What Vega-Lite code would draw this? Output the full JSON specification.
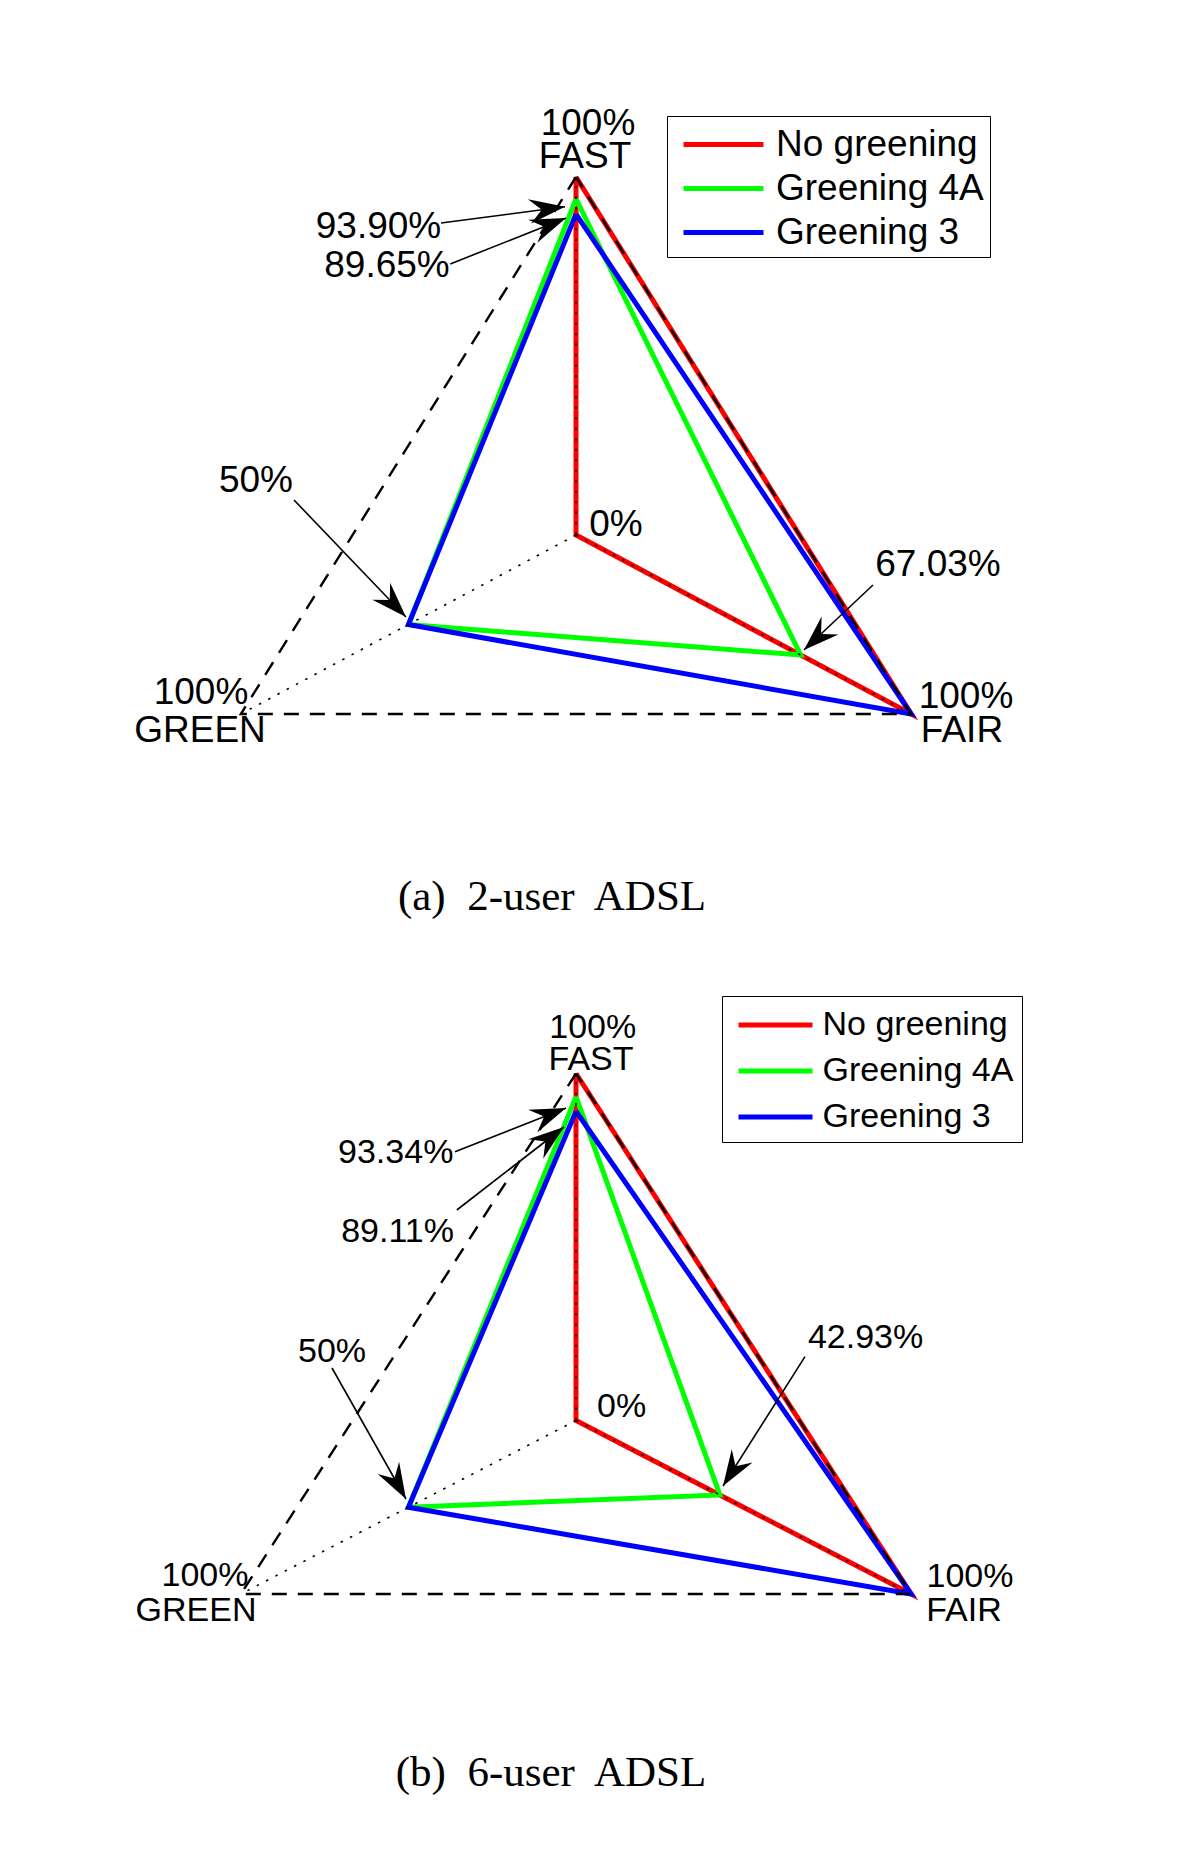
{
  "$schema": "https://vega.github.io/schema/vega-lite/v6.json",
  "padding": 0,
  "spacing": 0,
  "background": "white",
  "config": {"view": {"stroke": null}, "concat": {"spacing": 0}},
  "datasets": {
    "radar": [
      {"panel": "a", "series": "No greening", "axis": "FAST", "value": 1, "ord": 1},
      {"panel": "a", "series": "No greening", "axis": "FAIR", "value": 1, "ord": 2},
      {"panel": "a", "series": "No greening", "axis": "GREEN", "value": 0, "ord": 3},
      {"panel": "a", "series": "No greening", "axis": "FAST", "value": 1, "ord": 4},
      {"panel": "a", "series": "Greening 4A", "axis": "FAST", "value": 0.939, "ord": 1},
      {"panel": "a", "series": "Greening 4A", "axis": "FAIR", "value": 0.6703, "ord": 2},
      {"panel": "a", "series": "Greening 4A", "axis": "GREEN", "value": 0.5, "ord": 3},
      {"panel": "a", "series": "Greening 4A", "axis": "FAST", "value": 0.939, "ord": 4},
      {"panel": "a", "series": "Greening 3", "axis": "FAST", "value": 0.8965, "ord": 1},
      {"panel": "a", "series": "Greening 3", "axis": "FAIR", "value": 1, "ord": 2},
      {"panel": "a", "series": "Greening 3", "axis": "GREEN", "value": 0.5, "ord": 3},
      {"panel": "a", "series": "Greening 3", "axis": "FAST", "value": 0.8965, "ord": 4},
      {"panel": "b", "series": "No greening", "axis": "FAST", "value": 1, "ord": 1},
      {"panel": "b", "series": "No greening", "axis": "FAIR", "value": 1, "ord": 2},
      {"panel": "b", "series": "No greening", "axis": "GREEN", "value": 0, "ord": 3},
      {"panel": "b", "series": "No greening", "axis": "FAST", "value": 1, "ord": 4},
      {"panel": "b", "series": "Greening 4A", "axis": "FAST", "value": 0.9334, "ord": 1},
      {"panel": "b", "series": "Greening 4A", "axis": "FAIR", "value": 0.4293, "ord": 2},
      {"panel": "b", "series": "Greening 4A", "axis": "GREEN", "value": 0.5, "ord": 3},
      {"panel": "b", "series": "Greening 4A", "axis": "FAST", "value": 0.9334, "ord": 4},
      {"panel": "b", "series": "Greening 3", "axis": "FAST", "value": 0.8911, "ord": 1},
      {"panel": "b", "series": "Greening 3", "axis": "FAIR", "value": 1, "ord": 2},
      {"panel": "b", "series": "Greening 3", "axis": "GREEN", "value": 0.5, "ord": 3},
      {"panel": "b", "series": "Greening 3", "axis": "FAST", "value": 0.8911, "ord": 4}
    ],
    "grid": [
      {"kind": "frame", "axis": "FAST", "value": 1, "ord": 1},
      {"kind": "frame", "axis": "GREEN", "value": 1, "ord": 2},
      {"kind": "frame", "axis": "FAIR", "value": 1, "ord": 3},
      {"kind": "frame", "axis": "FAST", "value": 1, "ord": 4},
      {"kind": "spoke", "axis": "FAST", "value": 0, "ord": 1},
      {"kind": "spoke", "axis": "FAST", "value": 1, "ord": 2},
      {"kind": "spoke", "axis": "GREEN", "value": 0, "ord": 1},
      {"kind": "spoke", "axis": "GREEN", "value": 1, "ord": 2},
      {"kind": "spoke", "axis": "FAIR", "value": 0, "ord": 1},
      {"kind": "spoke", "axis": "FAIR", "value": 1, "ord": 2}
    ],
    "labels": [
      {"panel": "a", "label": "100%", "x": 0.031, "y": 1.148},
      {"panel": "a", "label": "FAST", "x": 0.0233, "y": 1.0567},
      {"panel": "a", "label": "0%", "x": 0.1034, "y": 0.0293},
      {"panel": "a", "label": "100%", "x": -0.969, "y": -0.441},
      {"panel": "a", "label": "GREEN", "x": -0.9716, "y": -0.5467},
      {"panel": "a", "label": "100%", "x": 1.0078, "y": -0.452},
      {"panel": "a", "label": "FAIR", "x": 0.9974, "y": -0.5467},
      {"panel": "a", "label": "93.90%", "x": -0.5103, "y": 0.8603},
      {"panel": "a", "label": "89.65%", "x": -0.4884, "y": 0.7514},
      {"panel": "a", "label": "50%", "x": -0.8269, "y": 0.1508},
      {"panel": "a", "label": "67.03%", "x": 0.9354, "y": -0.0838},
      {"panel": "b", "label": "100%", "x": 0.0432, "y": 1.1322},
      {"panel": "b", "label": "FAST", "x": 0.0388, "y": 1.0398},
      {"panel": "b", "label": "0%", "x": 0.1178, "y": 0.0389},
      {"panel": "b", "label": "100%", "x": -0.9587, "y": -0.448},
      {"panel": "b", "label": "GREEN", "x": -0.9819, "y": -0.5481},
      {"panel": "b", "label": "100%", "x": 1.0181, "y": -0.451},
      {"panel": "b", "label": "FAIR", "x": 1.0026, "y": -0.5481},
      {"panel": "b", "label": "93.34%", "x": -0.4659, "y": 0.7723},
      {"panel": "b", "label": "89.11%", "x": -0.461, "y": 0.5441},
      {"panel": "b", "label": "50%", "x": -0.6305, "y": 0.1974},
      {"panel": "b", "label": "42.93%", "x": 0.7483, "y": 0.2378}
    ],
    "arrows": [
      {"panel": "a", "x": -0.3488, "y": 0.8715, "x2": -0.0284, "y2": 0.917},
      {"panel": "a", "x": -0.325, "y": 0.757, "x2": -0.0258, "y2": 0.8855},
      {"panel": "a", "x": -0.7287, "y": 0.0978, "x2": -0.4393, "y2": -0.229},
      {"panel": "a", "x": 0.7674, "y": -0.1397, "x2": 0.5891, "y2": -0.3212},
      {"panel": "b", "x": -0.3127, "y": 0.7746, "x2": -0.0258, "y2": 0.9006},
      {"panel": "b", "x": -0.308, "y": 0.6066, "x2": -0.031, "y2": 0.8458},
      {"panel": "b", "x": -0.6305, "y": 0.1513, "x2": -0.4393, "y2": -0.2262},
      {"panel": "b", "x": 0.5917, "y": 0.1839, "x2": 0.3798, "y2": -0.1888}
    ],
    "captions": [
      {"panel": "a", "label": "(a)\u00a0 2-user\u00a0 ADSL", "x": -0.062, "y": -1.0112},
      {"panel": "b", "label": "(b)\u00a0 6-user\u00a0 ADSL", "x": -0.0646, "y": -1.0159}
    ]
  },
  "resolve": {"scale": {"x": "independent", "y": "independent", "color": "independent"}, "legend": {"color": "independent"}},
  "vconcat": [
    {
      "width": 1200,
      "height": 934,
      "layer": [
        {
          "data": {"name": "radar"},
          "transform": [
            {"filter": "datum.panel === 'a'"},
            {"calculate": "datum.axis === 'FAST' ? 90 : (datum.axis === 'FAIR' ? -30 : 210)", "as": "deg"},
            {"calculate": "datum.value * cos(datum.deg * PI / 180)", "as": "x"},
            {"calculate": "datum.value * sin(datum.deg * PI / 180)", "as": "y"}
          ],
          "mark": {"type": "line", "strokeWidth": 5, "strokeJoin": "miter"},
          "encoding": {
            "x": {"field": "x", "type": "quantitative", "scale": {"domain": [-1.4884, 1.6124], "nice": false, "zero": false}, "axis": null},
            "y": {"field": "y", "type": "quantitative", "scale": {"domain": [-1.1145, 1.4944], "nice": false, "zero": false}, "axis": null},
            "order": {"field": "ord", "type": "quantitative"},
            "color": {
              "field": "series", "type": "nominal",
              "scale": {"domain": ["No greening", "Greening 4A", "Greening 3"], "range": ["#ff0000", "#00ff00", "#0000ff"]},
              "legend": {
                "title": null, "orient": "none", "legendX": 667, "legendY": 116, "direction": "vertical",
                "symbolType": "M-2,0L2,0", "symbolSize": 1600, "symbolStrokeWidth": 5, "symbolOffset": 28,
                "labelOffset": 30, "labelFontSize": 37, "labelFont": "Liberation Sans", "labelColor": "black",
                "labelLimit": 400, "padding": 6, "rowPadding": 3, "strokeColor": "black", "fillColor": "white"
              }
            }
          }
        },
        {
          "data": {"name": "grid"},
          "transform": [
            {"filter": "datum.kind === 'frame'"},
            {"calculate": "datum.axis === 'FAST' ? 90 : (datum.axis === 'FAIR' ? -30 : 210)", "as": "deg"},
            {"calculate": "datum.value * cos(datum.deg * PI / 180)", "as": "x"},
            {"calculate": "datum.value * sin(datum.deg * PI / 180)", "as": "y"}
          ],
          "mark": {"type": "line", "color": "black", "strokeWidth": 2.4, "strokeDash": [15, 11]},
          "encoding": {
            "x": {"field": "x", "type": "quantitative", "scale": {"domain": [-1.4884, 1.6124], "nice": false, "zero": false}, "axis": null},
            "y": {"field": "y", "type": "quantitative", "scale": {"domain": [-1.1145, 1.4944], "nice": false, "zero": false}, "axis": null},
            "order": {"field": "ord", "type": "quantitative"}
          }
        },
        {
          "data": {"name": "grid"},
          "transform": [
            {"filter": "datum.kind === 'spoke'"},
            {"calculate": "datum.axis === 'FAST' ? 90 : (datum.axis === 'FAIR' ? -30 : 210)", "as": "deg"},
            {"calculate": "datum.value * cos(datum.deg * PI / 180)", "as": "x"},
            {"calculate": "datum.value * sin(datum.deg * PI / 180)", "as": "y"}
          ],
          "mark": {"type": "line", "color": "black", "strokeWidth": 1.6, "strokeDash": [2.5, 8]},
          "encoding": {
            "x": {"field": "x", "type": "quantitative", "scale": {"domain": [-1.4884, 1.6124], "nice": false, "zero": false}, "axis": null},
            "y": {"field": "y", "type": "quantitative", "scale": {"domain": [-1.1145, 1.4944], "nice": false, "zero": false}, "axis": null},
            "detail": {"field": "axis", "type": "nominal"},
            "order": {"field": "ord", "type": "quantitative"}
          }
        },
        {
          "data": {"name": "arrows"},
          "transform": [{"filter": "datum.panel === 'a'"}],
          "mark": {"type": "rule", "color": "black", "strokeWidth": 1.6},
          "encoding": {
            "x": {"field": "x", "type": "quantitative", "scale": {"domain": [-1.4884, 1.6124], "nice": false, "zero": false}, "axis": null},
            "y": {"field": "y", "type": "quantitative", "scale": {"domain": [-1.1145, 1.4944], "nice": false, "zero": false}, "axis": null},
            "x2": {"field": "x2"},
            "y2": {"field": "y2"}
          }
        },
        {
          "data": {"name": "arrows"},
          "transform": [
            {"filter": "datum.panel === 'a'"},
            {"calculate": "atan2((datum.x2 - datum.x) * 387, (datum.y2 - datum.y) * 358) * 180 / PI", "as": "ang"}
          ],
          "mark": {"type": "point", "shape": "M0,0L0.55,1.6L0,1.05L-0.55,1.6Z", "filled": true, "size": 2000, "color": "black", "opacity": 1, "strokeWidth": 0},
          "encoding": {
            "x": {"field": "x2", "type": "quantitative", "scale": {"domain": [-1.4884, 1.6124], "nice": false, "zero": false}, "axis": null},
            "y": {"field": "y2", "type": "quantitative", "scale": {"domain": [-1.1145, 1.4944], "nice": false, "zero": false}, "axis": null},
            "angle": {"field": "ang", "type": "quantitative", "scale": null}
          }
        },
        {
          "data": {"name": "labels"},
          "transform": [{"filter": "datum.panel === 'a'"}],
          "mark": {"type": "text", "font": "Liberation Sans", "fontSize": 37, "color": "black", "align": "center", "baseline": "middle"},
          "encoding": {
            "x": {"field": "x", "type": "quantitative", "scale": {"domain": [-1.4884, 1.6124], "nice": false, "zero": false}, "axis": null},
            "y": {"field": "y", "type": "quantitative", "scale": {"domain": [-1.1145, 1.4944], "nice": false, "zero": false}, "axis": null},
            "text": {"field": "label", "type": "nominal"}
          }
        },
        {
          "data": {"name": "captions"},
          "transform": [{"filter": "datum.panel === 'a'"}],
          "mark": {"type": "text", "font": "Liberation Serif", "fontSize": 43, "color": "black", "align": "center", "baseline": "middle"},
          "encoding": {
            "x": {"field": "x", "type": "quantitative", "scale": {"domain": [-1.4884, 1.6124], "nice": false, "zero": false}, "axis": null},
            "y": {"field": "y", "type": "quantitative", "scale": {"domain": [-1.1145, 1.4944], "nice": false, "zero": false}, "axis": null},
            "text": {"field": "label", "type": "nominal"}
          }
        }
      ]
    },
    {
      "width": 1200,
      "height": 935,
      "layer": [
        {
          "data": {"name": "radar"},
          "transform": [
            {"filter": "datum.panel === 'b'"},
            {"calculate": "datum.axis === 'FAST' ? 90 : (datum.axis === 'FAIR' ? -30 : 210)", "as": "deg"},
            {"calculate": "datum.value * cos(datum.deg * PI / 180)", "as": "x"},
            {"calculate": "datum.value * sin(datum.deg * PI / 180)", "as": "y"}
          ],
          "mark": {"type": "line", "strokeWidth": 5, "strokeJoin": "miter"},
          "encoding": {
            "x": {"field": "x", "type": "quantitative", "scale": {"domain": [-1.4884, 1.6124], "nice": false, "zero": false}, "axis": null},
            "y": {"field": "y", "type": "quantitative", "scale": {"domain": [-1.2925, 1.402], "nice": false, "zero": false}, "axis": null},
            "order": {"field": "ord", "type": "quantitative"},
            "color": {
              "field": "series", "type": "nominal",
              "scale": {"domain": ["No greening", "Greening 4A", "Greening 3"], "range": ["#ff0000", "#00ff00", "#0000ff"]},
              "legend": {
                "title": null, "orient": "none", "legendX": 722, "legendY": 62, "direction": "vertical",
                "symbolType": "M-2,0L2,0", "symbolSize": 1369, "symbolStrokeWidth": 5, "symbolOffset": 24.5,
                "labelOffset": 26, "labelFontSize": 34, "labelFont": "Liberation Sans", "labelColor": "black",
                "labelLimit": 400, "padding": 8, "rowPadding": 8, "strokeColor": "black", "fillColor": "white"
              }
            }
          }
        },
        {
          "data": {"name": "grid"},
          "transform": [
            {"filter": "datum.kind === 'frame'"},
            {"calculate": "datum.axis === 'FAST' ? 90 : (datum.axis === 'FAIR' ? -30 : 210)", "as": "deg"},
            {"calculate": "datum.value * cos(datum.deg * PI / 180)", "as": "x"},
            {"calculate": "datum.value * sin(datum.deg * PI / 180)", "as": "y"}
          ],
          "mark": {"type": "line", "color": "black", "strokeWidth": 2.4, "strokeDash": [15, 11]},
          "encoding": {
            "x": {"field": "x", "type": "quantitative", "scale": {"domain": [-1.4884, 1.6124], "nice": false, "zero": false}, "axis": null},
            "y": {"field": "y", "type": "quantitative", "scale": {"domain": [-1.2925, 1.402], "nice": false, "zero": false}, "axis": null},
            "order": {"field": "ord", "type": "quantitative"}
          }
        },
        {
          "data": {"name": "grid"},
          "transform": [
            {"filter": "datum.kind === 'spoke'"},
            {"calculate": "datum.axis === 'FAST' ? 90 : (datum.axis === 'FAIR' ? -30 : 210)", "as": "deg"},
            {"calculate": "datum.value * cos(datum.deg * PI / 180)", "as": "x"},
            {"calculate": "datum.value * sin(datum.deg * PI / 180)", "as": "y"}
          ],
          "mark": {"type": "line", "color": "black", "strokeWidth": 1.6, "strokeDash": [2.5, 8]},
          "encoding": {
            "x": {"field": "x", "type": "quantitative", "scale": {"domain": [-1.4884, 1.6124], "nice": false, "zero": false}, "axis": null},
            "y": {"field": "y", "type": "quantitative", "scale": {"domain": [-1.2925, 1.402], "nice": false, "zero": false}, "axis": null},
            "detail": {"field": "axis", "type": "nominal"},
            "order": {"field": "ord", "type": "quantitative"}
          }
        },
        {
          "data": {"name": "arrows"},
          "transform": [{"filter": "datum.panel === 'b'"}],
          "mark": {"type": "rule", "color": "black", "strokeWidth": 1.6},
          "encoding": {
            "x": {"field": "x", "type": "quantitative", "scale": {"domain": [-1.4884, 1.6124], "nice": false, "zero": false}, "axis": null},
            "y": {"field": "y", "type": "quantitative", "scale": {"domain": [-1.2925, 1.402], "nice": false, "zero": false}, "axis": null},
            "x2": {"field": "x2"},
            "y2": {"field": "y2"}
          }
        },
        {
          "data": {"name": "arrows"},
          "transform": [
            {"filter": "datum.panel === 'b'"},
            {"calculate": "atan2((datum.x2 - datum.x) * 387, (datum.y2 - datum.y) * 347) * 180 / PI", "as": "ang"}
          ],
          "mark": {"type": "point", "shape": "M0,0L0.55,1.6L0,1.05L-0.55,1.6Z", "filled": true, "size": 2000, "color": "black", "opacity": 1, "strokeWidth": 0},
          "encoding": {
            "x": {"field": "x2", "type": "quantitative", "scale": {"domain": [-1.4884, 1.6124], "nice": false, "zero": false}, "axis": null},
            "y": {"field": "y2", "type": "quantitative", "scale": {"domain": [-1.2925, 1.402], "nice": false, "zero": false}, "axis": null},
            "angle": {"field": "ang", "type": "quantitative", "scale": null}
          }
        },
        {
          "data": {"name": "labels"},
          "transform": [{"filter": "datum.panel === 'b'"}],
          "mark": {"type": "text", "font": "Liberation Sans", "fontSize": 34, "color": "black", "align": "center", "baseline": "middle"},
          "encoding": {
            "x": {"field": "x", "type": "quantitative", "scale": {"domain": [-1.4884, 1.6124], "nice": false, "zero": false}, "axis": null},
            "y": {"field": "y", "type": "quantitative", "scale": {"domain": [-1.2925, 1.402], "nice": false, "zero": false}, "axis": null},
            "text": {"field": "label", "type": "nominal"}
          }
        },
        {
          "data": {"name": "captions"},
          "transform": [{"filter": "datum.panel === 'b'"}],
          "mark": {"type": "text", "font": "Liberation Serif", "fontSize": 43, "color": "black", "align": "center", "baseline": "middle"},
          "encoding": {
            "x": {"field": "x", "type": "quantitative", "scale": {"domain": [-1.4884, 1.6124], "nice": false, "zero": false}, "axis": null},
            "y": {"field": "y", "type": "quantitative", "scale": {"domain": [-1.2925, 1.402], "nice": false, "zero": false}, "axis": null},
            "text": {"field": "label", "type": "nominal"}
          }
        }
      ]
    }
  ]
}
